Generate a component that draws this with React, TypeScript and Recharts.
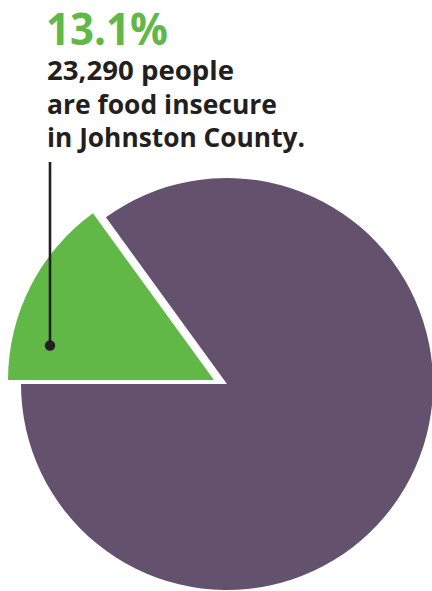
import type { ReactElement } from "react";
import { PieChart, Pie, Cell } from "recharts";

// Phan chia dan so (doc tu goc cua lat cat trong hinh, ~54 do)
const sliceNames = ["Food insecure", "Food secure"];
const sliceShares = [15, 85];
const sliceColors = ["#62b847", "#63516e"];

// Chu thich phia tren
const headline = "13.1%";
const captionLines = ["23,290 people", "are food insecure", "in Johnston County."];

const data = sliceNames.map((name, i) => ({ name, value: sliceShares[i] }));

const W = 432;
const H = 591;

export default function App(): ReactElement {
  return (
    <div style={{ position: "absolute", left: 0, top: 0, width: W, height: H, background: "#fff" }}>
      <PieChart width={W} height={H} margin={{ top: 0, right: 0, bottom: 0, left: 0 }}>
        {/* lat lon mau tim */}
        <Pie
          data={data}
          dataKey="value"
          nameKey="name"
          cx={227}
          cy={384}
          outerRadius={206}
          startAngle={180}
          endAngle={-180}
          stroke="none"
          isAnimationActive={false}
        >
          {data.map((_, i) => (
            <Cell key={i} fill={i === 1 ? sliceColors[1] : "transparent"} />
          ))}
        </Pie>
        {/* lat xanh tach ra ve phia tren trai */}
        <Pie
          data={data}
          dataKey="value"
          nameKey="name"
          cx={214}
          cy={380}
          outerRadius={206}
          startAngle={180}
          endAngle={-180}
          stroke="none"
          isAnimationActive={false}
        >
          {data.map((_, i) => (
            <Cell key={i} fill={i === 0 ? sliceColors[0] : "transparent"} />
          ))}
        </Pie>
      </PieChart>
      <svg
        width={W}
        height={H}
        style={{ position: "absolute", left: 0, top: 0, pointerEvents: "none" }}
      >
        <text
          x={46}
          y={45}
          fill="#62b847"
          fontFamily="'Open Sans', sans-serif"
          fontWeight={700}
          fontSize={44}
          textLength={122}
          lengthAdjust="spacingAndGlyphs"
        >
          {headline}
        </text>
        {captionLines.map((line, i) => (
          <text
            key={line}
            x={47}
            y={80 + i * 33.5}
            fill="#231f20"
            fontFamily="'Open Sans', sans-serif"
            fontWeight={700}
            fontSize={27}
            textLength={[187, 230, 258][i]}
            lengthAdjust="spacingAndGlyphs"
          >
            {line}
          </text>
        ))}
        <line x1={50} y1={162} x2={50} y2={345} stroke="#231f20" strokeWidth={2.6} />
        <circle cx={50} cy={345.5} r={5.2} fill="#231f20" />
      </svg>
    </div>
  );
}
